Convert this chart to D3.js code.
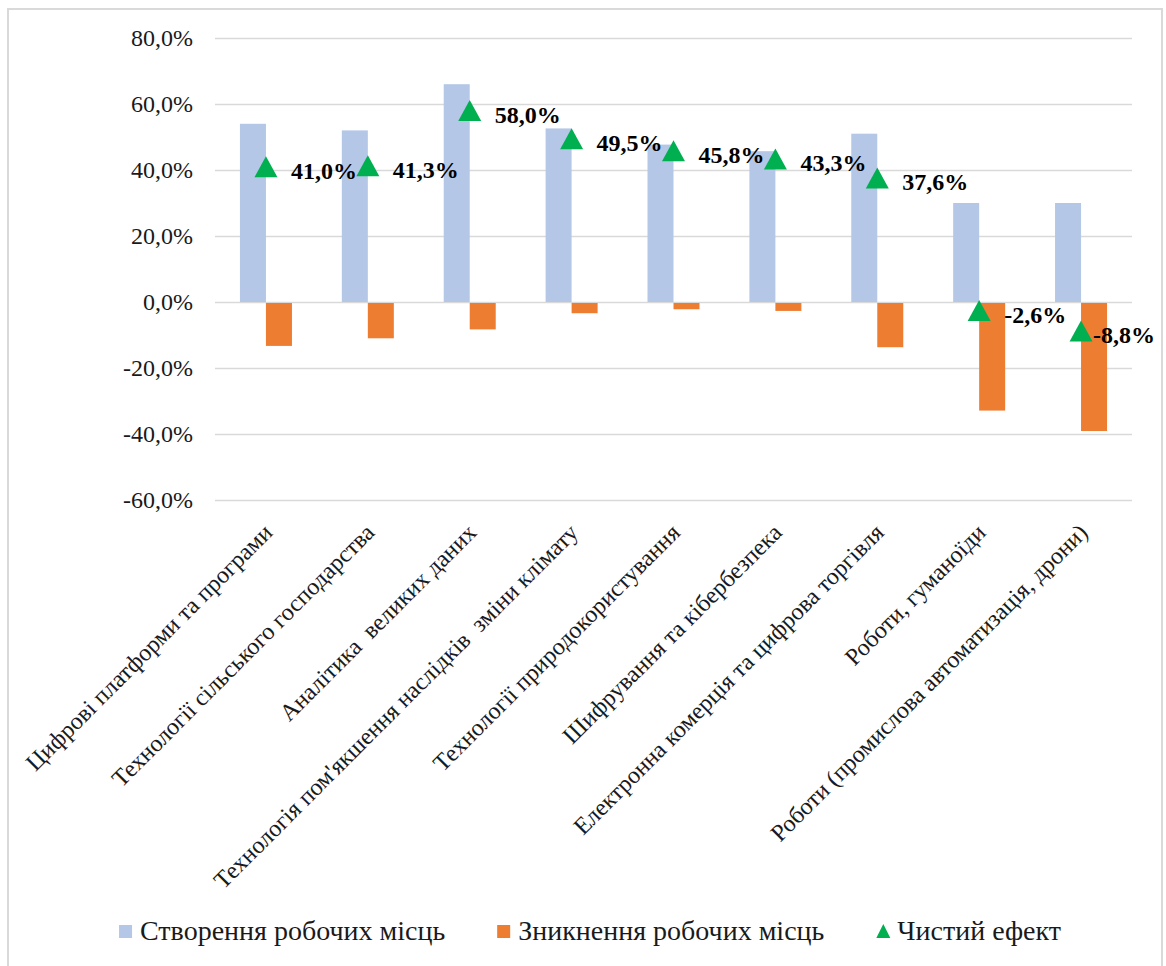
<!DOCTYPE html>
<html>
<head>
<meta charset="utf-8">
<script src="https://cdn.jsdelivr.net/npm/d3@7"></script>
<style>
  body { margin: 0; background: #fff; }
  svg { display: block; }
</style>
</head>
<body>
<svg id="chart" width="1166" height="966"></svg>
<script>
// Categories of technologies
const categories = [
  "Цифрові платформи та програми",
  "Технології сільського господарства",
  "Аналітика  великих даних",
  "Технологія пом'якшення наслідків  зміни клімату",
  "Технології природокористування",
  "Шифрування та кібербезпека",
  "Електронна комерція та цифрова торгівля",
  "Роботи, гуманоїди",
  "Роботи (промислова автоматизація, дрони)"
];

// Series values, %
const jobsCreated   = [54.0, 52.0, 66.0, 52.6, 47.7, 45.7, 51.0, 30.0, 30.0];
const jobsDisplaced = [-13.0, -10.7, -8.0, -3.1, -1.9, -2.4, -13.4, -32.6, -38.8];
const netEffect     = [41.0, 41.3, 58.0, 49.5, 45.8, 43.3, 37.6, -2.6, -8.8];

// Axis ticks and legend names
const yTicks = [-60, -40, -20, 0, 20, 40, 60, 80];
const seriesNames = ["Створення робочих місць", "Зникнення робочих місць", "Чистий ефект"];
const seriesColors = ["#b4c7e7", "#ed7d31", "#00b050"];

const FONT = '"Liberation Serif", "Times New Roman", serif';
const svg = d3.select("#chart");
const W = 1166, H = 966;

const locale = d3.formatLocale({ decimal: ",", thousands: "\u00a0", grouping: [3], currency: ["", ""], minus: "-" });
const pct = v => locale.format(".1f")(v) + "%";

// Outer frame
svg.append("rect").attr("x", 0).attr("y", 0).attr("width", W).attr("height", H).attr("fill", "#fff");
svg.append("rect")
  .attr("x", 8).attr("y", 9).attr("width", 1154).attr("height", 980)
  .attr("fill", "#fff").attr("stroke", "#d9d9d9").attr("stroke-width", 2);

const plot = { left: 215, right: 1132, top: 38, bottom: 500 };

const x = d3.scaleBand().domain(categories).range([plot.left, plot.right]).paddingInner(0).paddingOuter(0);
const y = d3.scaleLinear().domain([-60, 80]).range([plot.bottom, plot.top]);
const barW = 26;

// Y axis with gridlines
const yAxis = svg.append("g")
  .attr("transform", `translate(${plot.left},0)`)
  .call(d3.axisLeft(y).tickValues(yTicks).tickFormat(pct)
    .tickSize(-(plot.right - plot.left)).tickPadding(22));
yAxis.select(".domain").remove();
yAxis.selectAll(".tick line").attr("stroke", "#d9d9d9").attr("stroke-width", 1.5);
yAxis.selectAll(".tick text")
  .attr("font-size", 24).attr("fill", "#1a1a1a")
  .style("font-family", FONT);

// Bars
const idx = d3.range(categories.length);
svg.append("g").selectAll("rect").data(idx).join("rect")
  .attr("x", i => x(categories[i]) + x.bandwidth() / 2 - barW)
  .attr("y", i => y(Math.max(0, jobsCreated[i])))
  .attr("width", barW)
  .attr("height", i => Math.abs(y(jobsCreated[i]) - y(0)))
  .attr("fill", seriesColors[0]);

svg.append("g").selectAll("rect").data(idx).join("rect")
  .attr("x", i => x(categories[i]) + x.bandwidth() / 2)
  .attr("y", i => y(Math.max(0, jobsDisplaced[i])) + 1)
  .attr("width", barW)
  .attr("height", i => Math.abs(y(jobsDisplaced[i]) - y(0)))
  .attr("fill", seriesColors[1]);

// X axis labels, rotated
const xAxis = svg.append("g")
  .attr("transform", `translate(0,${plot.bottom})`)
  .call(d3.axisBottom(x).tickSize(0).tickFormat(d => d));
xAxis.select(".domain").remove();
xAxis.selectAll(".tick text")
  .attr("font-size", 24).attr("fill", "#1a1a1a")
  .style("font-family", FONT)
  .style("white-space", "pre")
  .attr("text-anchor", "end")
  .attr("x", 0).attr("y", 0).attr("dy", 0)
  .attr("transform", "translate(8,34) rotate(-45)");

// Net-effect markers (triangle centred on its box)
const triW = 23, triH = 21;
const triPath = `M0,${-triH / 2}L${triW / 2},${triH / 2}L${-triW / 2},${triH / 2}Z`;
const cx = i => x(categories[i]) + x.bandwidth() / 2;

// Data labels, kept inside the frame on the right
const chartRightEdge = 1155;
svg.append("g").selectAll("text").data(idx).join("text")
  .attr("font-size", 24).attr("font-weight", "bold").attr("fill", "#000")
  .style("font-family", FONT)
  .attr("y", i => y(netEffect[i]) + 12)
  .text(i => pct(netEffect[i]))
  .attr("x", function (i) {
    const w = this.getComputedTextLength();
    let lx = cx(i) + 25;
    if (lx + w > chartRightEdge) lx = chartRightEdge - w;
    return lx;
  });

svg.append("g").selectAll("path").data(idx).join("path")
  .attr("d", triPath)
  .attr("transform", i => `translate(${cx(i)},${y(netEffect[i])})`)
  .attr("fill", seriesColors[2]);

// Legend
const legend = svg.append("g").attr("transform", "translate(0,931)");
const items = legend.selectAll("g").data(seriesNames).join("g");
items.append("text")
  .attr("font-size", 28).attr("fill", "#1a1a1a")
  .style("font-family", FONT)
  .attr("y", 9).text(d => d);
const widths = [];
items.each(function () { widths.push(d3.select(this).select("text").node().getComputedTextLength()); });
const sym = 21, gap = 52;
const total = d3.sum(widths) + seriesNames.length * sym + (seriesNames.length - 1) * gap;
let pos = 590 - total / 2;
items.each(function (d, i) {
  const g = d3.select(this);
  if (i < 2) {
    g.insert("rect", "text").attr("x", 0).attr("y", -6).attr("width", 13).attr("height", 13).attr("fill", seriesColors[i]);
  } else {
    g.insert("path", "text").attr("d", "M7,-7L14,7L0,7Z").attr("fill", seriesColors[i]);
  }
  g.select("text").attr("x", sym);
  g.attr("transform", `translate(${pos},0)`);
  pos += sym + widths[i] + gap;
});
</script>
</body>
</html>
